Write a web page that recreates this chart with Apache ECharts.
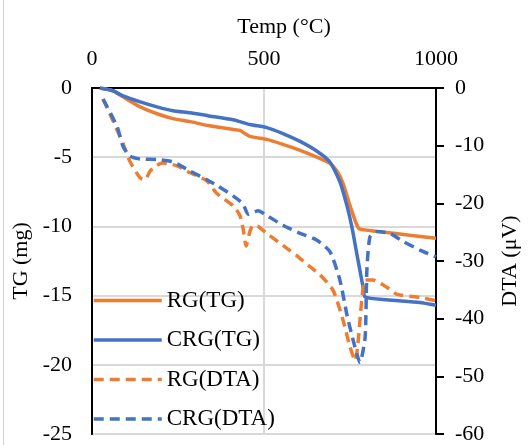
<!DOCTYPE html>
<html>
<head>
<meta charset="utf-8">
<script src="https://cdn.jsdelivr.net/npm/echarts@6/dist/echarts.min.js"></script>
<style>html,body{margin:0;padding:0;background:#fff;}#c{width:529px;height:445px;}</style>
</head>
<body>
<div id="c"></div>
<script>
// Temperatures (°C) and values
var rgTgT   = [23, 61, 90, 140, 189, 235, 285, 337, 410, 430, 459, 508, 555, 605, 654, 692, 712, 730, 750, 770, 779, 828, 924, 1000];
var rgTgV   = [0, -0.2, -0.64, -1.36, -1.86, -2.21, -2.43, -2.71, -3.0, -3.07, -3.5, -3.71, -4.07, -4.5, -5.0, -5.45, -6.0, -6.9, -8.5, -9.9, -10.2, -10.36, -10.64, -10.85];
var crgTgT  = [23, 61, 90, 140, 189, 235, 285, 337, 410, 459, 508, 555, 605, 654, 692, 721, 741, 756, 770, 779, 788, 794, 857, 953, 1000];
var crgTgV  = [0, -0.2, -0.57, -1.0, -1.36, -1.64, -1.79, -2.0, -2.29, -2.64, -2.86, -3.29, -3.86, -4.57, -5.36, -6.8, -8.5, -10.1, -12.0, -13.2, -14.4, -15.1, -15.3, -15.5, -15.7];
var rgDtaT  = [32, 61, 90, 110, 140, 154, 169, 189, 206, 247, 285, 334, 363, 410, 430, 439, 448, 459, 468, 483, 508, 555, 596, 634, 663, 701, 730, 750, 765, 773, 785, 794, 817, 858, 887, 953, 1000];
var rgDtaV  = [-1.9, -5.7, -9.6, -12.7, -15.6, -15.9, -14.4, -13.4, -13.0, -13.5, -14.7, -16.1, -18.3, -20.4, -22.1, -24.3, -27.4, -24.9, -23.8, -24.0, -25.2, -27.3, -29.1, -31.0, -32.4, -35.1, -40.3, -44.9, -47.3, -44.4, -36.3, -33.3, -33.3, -34.6, -35.8, -36.3, -36.9];
var crgDtaT = [32, 73, 90, 110, 140, 189, 235, 285, 334, 363, 410, 439, 454, 483, 508, 555, 605, 654, 692, 721, 741, 759, 779, 794, 799, 808, 828, 866, 904, 953, 1000];
var crgDtaV = [-1.9, -6.7, -10.1, -11.8, -12.3, -12.4, -12.8, -14.4, -15.9, -16.9, -18.7, -20.1, -21.9, -21.3, -22.1, -23.8, -25.2, -26.4, -28.4, -33.4, -39.3, -43.7, -47.6, -43.2, -31.7, -25.8, -24.9, -25.2, -26.6, -28.1, -29.3];

var xTicks = [0, 500, 1000];
var tgTicks = [0, -5, -10, -15, -20, -25];
var dtaTicks = [0, -10, -20, -30, -40, -50, -60];

function pairs(t, v) { return t.map(function (x, i) { return [x, v[i]]; }); }

var FONT = 'Liberation Serif';
var ORANGE = '#ED7D31', BLUE = '#4472C4';
var LW = 3.5, DASH = [10, 6];

var chart = echarts.init(document.getElementById('c'));
chart.setOption({
  animation: false,
  textStyle: { fontFamily: FONT },
  graphic: [{ type: 'line', shape: { x1: 3.5, y1: 0, x2: 3.5, y2: 445 }, style: { stroke: '#d0d0d0', lineWidth: 1 } }],
  grid: { left: 92, right: 92, top: 88, bottom: 7, show: true, borderColor: '#000', borderWidth: 2, backgroundColor: 'transparent' },
  legend: {
    orient: 'vertical', left: 87, top: 284,
    itemWidth: 68, itemHeight: 18, itemGap: 16.5,
    itemStyle: { opacity: 0 },
    lineStyle: { width: 3.5 },
    textStyle: { fontFamily: FONT, fontSize: 23, color: '#000' },
    data: ['RG(TG)', 'CRG(TG)', 'RG(DTA)', 'CRG(DTA)']
  },
  xAxis: {
    type: 'value', position: 'top', min: xTicks[0], max: xTicks[xTicks.length - 1], interval: 500,
    name: 'Temp (°C)', nameLocation: 'middle', nameGap: 50,
    nameTextStyle: { fontFamily: FONT, fontSize: 22, color: '#000', padding: [0, 0, 0, 40] },
    axisLine: { show: true, lineStyle: { color: '#000', width: 2 } },
    axisTick: { show: false },
    axisLabel: { fontFamily: FONT, fontSize: 22, color: '#000', margin: 18, formatter: function (v) { return String(v); } },
    splitLine: { show: true, lineStyle: { color: '#d9d9d9', width: 2 } }
  },
  yAxis: [{
    type: 'value', position: 'left', min: tgTicks[tgTicks.length - 1], max: tgTicks[0], interval: 5,
    name: 'TG (mg)', nameLocation: 'middle', nameGap: 57, nameRotate: 90,
    nameTextStyle: { fontFamily: FONT, fontSize: 22, color: '#000' },
    axisLine: { show: true, lineStyle: { color: '#000', width: 2 } },
    axisTick: { show: false },
    axisLabel: { fontFamily: FONT, fontSize: 22, color: '#000', margin: 20 },
    splitLine: { show: true, lineStyle: { color: '#d9d9d9', width: 2 } }
  }, {
    type: 'value', position: 'right', min: dtaTicks[dtaTicks.length - 1], max: dtaTicks[0], interval: 10,
    name: 'DTA (μV)', nameLocation: 'middle', nameGap: 63, nameRotate: 90,
    nameTextStyle: { fontFamily: FONT, fontSize: 22, color: '#000' },
    axisLine: { show: true, lineStyle: { color: '#000', width: 2 } },
    axisTick: { show: true, length: 8, lineStyle: { color: '#000', width: 2 } },
    axisLabel: { fontFamily: FONT, fontSize: 22, color: '#000', margin: 19 },
    splitLine: { show: false }
  }],
  series: [
    { name: 'RG(TG)', type: 'line', yAxisIndex: 0, data: pairs(rgTgT, rgTgV), symbol: 'none', smooth: 0.2,
      lineStyle: { color: ORANGE, width: LW }, itemStyle: { color: ORANGE } },
    { name: 'CRG(TG)', type: 'line', yAxisIndex: 0, data: pairs(crgTgT, crgTgV), symbol: 'none', smooth: 0.2,
      lineStyle: { color: BLUE, width: LW }, itemStyle: { color: BLUE } },
    { name: 'RG(DTA)', type: 'line', yAxisIndex: 1, data: pairs(rgDtaT, rgDtaV), symbol: 'none', smooth: 0.2,
      lineStyle: { color: ORANGE, width: LW, type: DASH }, itemStyle: { color: ORANGE } },
    { name: 'CRG(DTA)', type: 'line', yAxisIndex: 1, data: pairs(crgDtaT, crgDtaV), symbol: 'none', smooth: 0.2,
      lineStyle: { color: BLUE, width: LW, type: DASH }, itemStyle: { color: BLUE } }
  ]
});
</script>
</body>
</html>
